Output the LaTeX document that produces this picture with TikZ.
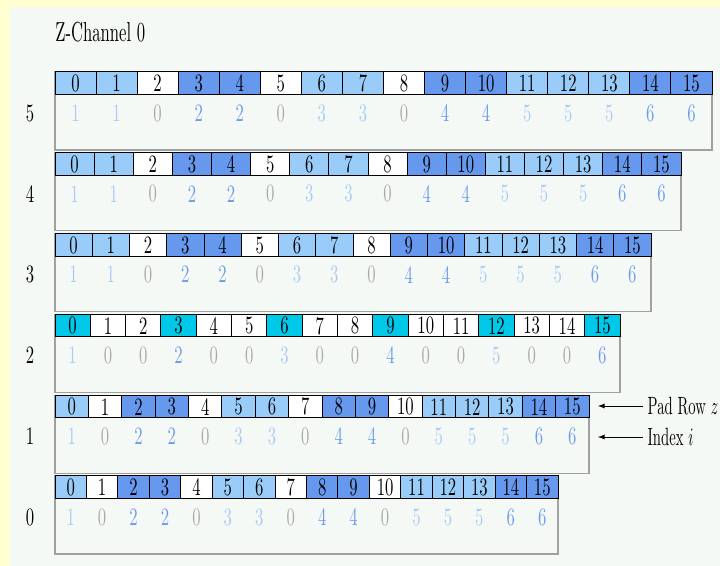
\documentclass[tikz,border=0pt]{standalone}
\usepackage{tikz}

\definecolor{outerbg}{HTML}{FFFFD2}
\definecolor{panelbg}{HTML}{F5F9F6}
\definecolor{padlight}{HTML}{99CCF8}
\definecolor{paddark}{HTML}{6699EE}
\definecolor{padcyan}{HTML}{00C8E8}
\definecolor{idxlight}{HTML}{A8CCF5}
\definecolor{idxdark}{HTML}{6E9CEC}
\definecolor{idxzero}{HTML}{AAAAAA}
\definecolor{boxgray}{HTML}{A0A0A0}

% header fill and index colour for each index value
\colorlet{pad0}{white}
\colorlet{pad1}{padlight}
\colorlet{pad2}{paddark}
\colorlet{pad3}{padlight}
\colorlet{pad4}{paddark}
\colorlet{pad5}{padlight}
\colorlet{pad6}{paddark}
\colorlet{cy0}{white}
\colorlet{cy1}{padcyan}
\colorlet{cy2}{padcyan}
\colorlet{cy3}{padcyan}
\colorlet{cy4}{padcyan}
\colorlet{cy5}{padcyan}
\colorlet{cy6}{padcyan}
\colorlet{idx0}{idxzero}
\colorlet{idx1}{idxlight}
\colorlet{idx2}{idxdark}
\colorlet{idx3}{idxlight}
\colorlet{idx4}{idxdark}
\colorlet{idx5}{idxlight}
\colorlet{idx6}{idxdark}

\tikzset{
  tall/.style={yscale=1.5, transform shape, inner sep=0pt},
  cellbox/.style={draw=black, line width=0.6pt},
  rowbox/.style={draw=boxgray, line width=0.8pt},
  sidelabel/.style={tall, xscale=0.88, anchor=west, inner xsep=3pt},
}

\begin{document}
\begin{tikzpicture}[x=0.6pt, y=-0.6pt]

% background
\useasboundingbox (0,0) rectangle (720,566);
\fill[outerbg] (0,0) rectangle (720,566);
\fill[panelbg] (10,7) rectangle (720,566);

\node[tall, yscale=1.1, anchor=west] (title) at (55,32) {Z-Channel 0};

% one strip per pad row
\foreach \r/\W/\pal/\idx in {
  5/657/pad/{1,1,0,2,2,0,3,3,0,4,4,5,5,5,6,6},
  4/626/pad/{1,1,0,2,2,0,3,3,0,4,4,5,5,5,6,6},
  3/596/pad/{1,1,0,2,2,0,3,3,0,4,4,5,5,5,6,6},
  2/565/cy/{1,0,0,2,0,0,3,0,0,4,0,0,5,0,0,6},
  1/534/pad/{1,0,2,2,0,3,3,0,4,4,0,5,5,5,6,6},
  0/503/pad/{1,0,2,2,0,3,3,0,4,4,0,5,5,5,6,6}}{
  \pgfmathsetmacro{\rowy}{72+80.8*(5-\r)}
  \pgfmathsetmacro{\cw}{\W/16}
  \draw[rowbox] (55,\rowy) rectangle ({55+\W},{\rowy+78}); % index box
  \node[tall] (row\r) at (30,{\rowy+41}) {\r};
  \foreach \i [count=\c from 0] in \idx {
    \draw[cellbox, fill=\pal\i] ({55+\c*\cw},\rowy) rectangle ({55+(\c+1)*\cw},{\rowy+22.5});
    \node[tall] (h\r-\c) at ({55+(\c+0.5)*\cw},{\rowy+11.5}) {\c};
    \node[tall, text=idx\i] (i\r-\c) at ({55+(\c+0.5)*\cw},{\rowy+41}) {\i};
  }
}

% labels
\node[sidelabel] (padlbl) at (643,406) {Pad Row $z$};
\node[sidelabel] (idxlbl) at (643,437) {Index $i$};
\coordinate (padtip) at (598,406);
\coordinate (idxtip) at (598,437);
\draw[-latex] (padlbl.west) -- (padtip);
\draw[-latex] (idxlbl.west) -- (idxtip);

\end{tikzpicture}
\end{document}
